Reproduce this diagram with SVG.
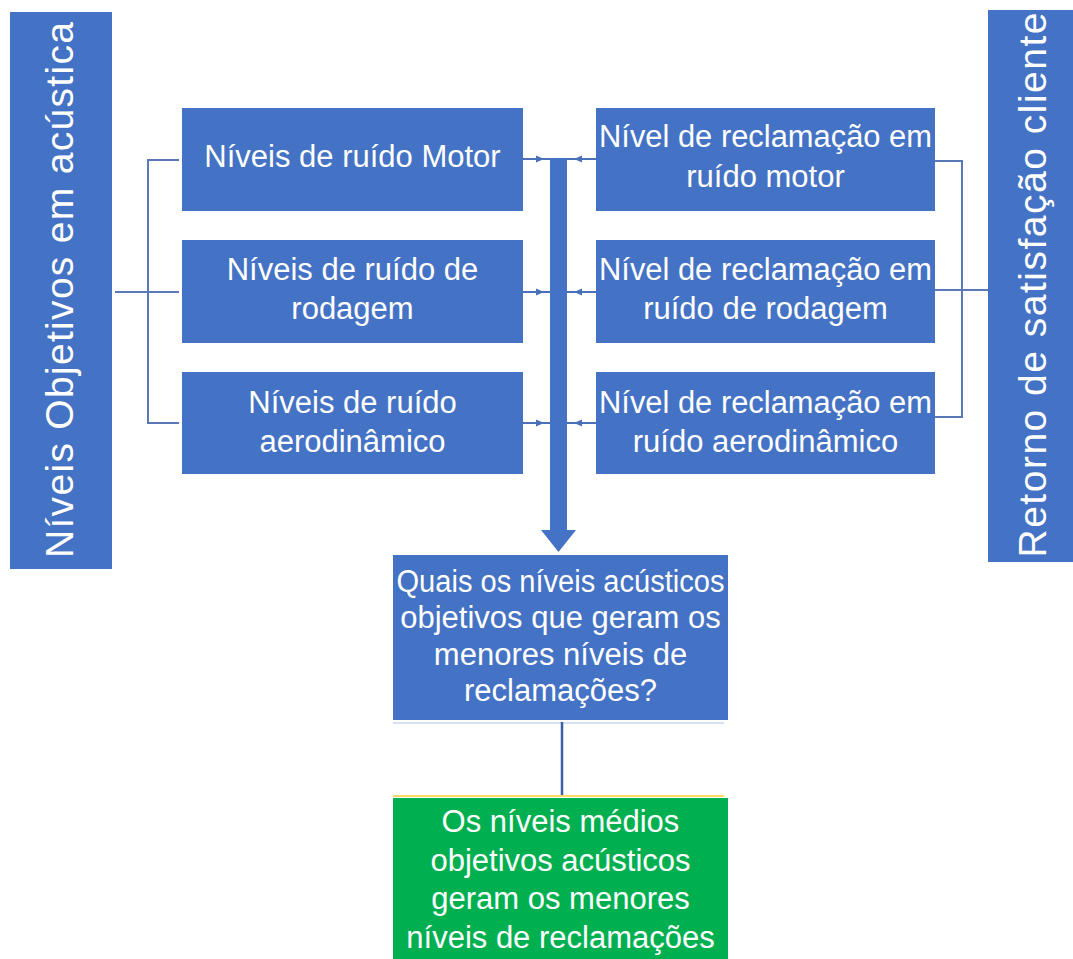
<svg xmlns="http://www.w3.org/2000/svg" width="1073" height="959" viewBox="0 0 1073 959">
<style>
.box{fill:#4472C4}
.green{fill:#00B050}
.t{font-family:"Liberation Sans",Arial,sans-serif;font-size:31px;fill:#ffffff;text-anchor:middle}
.v{font-family:"Liberation Sans",Arial,sans-serif;font-size:39px;fill:#ffffff;text-anchor:middle}
.br{stroke:#5878B8;stroke-width:2;fill:none}
.sm{stroke:#4A70B8;stroke-width:2;fill:none}
.ah{fill:#4A70B8}
</style>
<rect width="1073" height="959" fill="#ffffff"/>
<g id="connectors">
  <path class="br" d="M179,160 H148 V423 H179 M115,292 H179"/>
  <path class="br" d="M935,161 H962 V417 H935 M935,290 H988"/>
  <line class="sm" x1="523" y1="159" x2="551" y2="159"/>
  <polygon class="ah" points="536,155.5 544,159 536,162.5"/>
  <line class="sm" x1="596" y1="159" x2="566" y2="159"/>
  <polygon class="ah" points="582,155.5 574,159 582,162.5"/>
  <line class="sm" x1="523" y1="292" x2="551" y2="292"/>
  <polygon class="ah" points="536,288.5 544,292 536,295.5"/>
  <line class="sm" x1="596" y1="292" x2="566" y2="292"/>
  <polygon class="ah" points="582,288.5 574,292 582,295.5"/>
  <line class="sm" x1="523" y1="423" x2="551" y2="423"/>
  <polygon class="ah" points="536,419.5 544,423 536,426.5"/>
  <line class="sm" x1="596" y1="423" x2="566" y2="423"/>
  <polygon class="ah" points="582,419.5 574,423 582,426.5"/>
  <rect x="550" y="158" width="17" height="373" fill="#4472C4"/>
  <polygon points="541,530 576,530 558.5,552" fill="#4472C4"/>
  <line x1="393" y1="723" x2="724" y2="723" stroke="#C9D6EE" stroke-width="1.5"/>
  <line x1="562" y1="722" x2="562" y2="796" stroke="#3A5EA3" stroke-width="2.5"/>
  <line x1="393" y1="796" x2="724" y2="796" stroke="#FFD966" stroke-width="2"/>
</g>
<g id="objetivos">
  <rect class="box" x="10" y="12" width="102" height="557"/>
  <text class="v" transform="translate(73,290) rotate(-90)" textLength="536" lengthAdjust="spacing">Níveis Objetivos em acústica</text>
</g>
<g id="retorno">
  <rect class="box" x="988" y="10" width="85" height="552"/>
  <text class="v" transform="translate(1046,285) rotate(-90)" textLength="545" lengthAdjust="spacing">Retorno de satisfação cliente</text>
</g>
<g id="ruido-motor">
  <rect class="box" x="182" y="108" width="341" height="103"/>
  <text class="t" x="352.5" y="167">Níveis de ruído Motor</text>
</g>
<g id="ruido-rodagem">
  <rect class="box" x="182" y="240" width="341" height="103"/>
  <text class="t" x="352.5" y="280">Níveis de ruído de</text>
  <text class="t" x="352.5" y="319">rodagem</text>
</g>
<g id="ruido-aero">
  <rect class="box" x="182" y="372" width="341" height="102"/>
  <text class="t" x="352.5" y="413">Níveis de ruído</text>
  <text class="t" x="352.5" y="452">aerodinâmico</text>
</g>
<g id="recl-motor">
  <rect class="box" x="596" y="108" width="339" height="103"/>
  <text class="t" x="765.5" y="147" textLength="333" lengthAdjust="spacingAndGlyphs">Nível de reclamação em</text>
  <text class="t" x="765.5" y="187">ruído motor</text>
</g>
<g id="recl-rodagem">
  <rect class="box" x="596" y="240" width="339" height="103"/>
  <text class="t" x="765.5" y="280" textLength="333" lengthAdjust="spacingAndGlyphs">Nível de reclamação em</text>
  <text class="t" x="765.5" y="319">ruído de rodagem</text>
</g>
<g id="recl-aero">
  <rect class="box" x="596" y="372" width="339" height="102"/>
  <text class="t" x="765.5" y="413" textLength="333" lengthAdjust="spacingAndGlyphs">Nível de reclamação em</text>
  <text class="t" x="765.5" y="452">ruído aerodinâmico</text>
</g>
<g id="pergunta">
  <rect class="box" x="393" y="555" width="335" height="165"/>
  <text class="t" x="560.5" y="592" textLength="328" lengthAdjust="spacingAndGlyphs">Quais os níveis acústicos</text>
  <text class="t" x="560.5" y="628">objetivos que geram os</text>
  <text class="t" x="560.5" y="665">menores níveis de</text>
  <text class="t" x="560.5" y="701">reclamações?</text>
</g>
<g id="resposta">
  <rect class="green" x="393" y="798" width="335" height="161"/>
  <text class="t" x="560.5" y="832">Os níveis médios</text>
  <text class="t" x="560.5" y="871">objetivos acústicos</text>
  <text class="t" x="560.5" y="909">geram os menores</text>
  <text class="t" x="560.5" y="948">níveis de reclamações</text>
</g>
</svg>
